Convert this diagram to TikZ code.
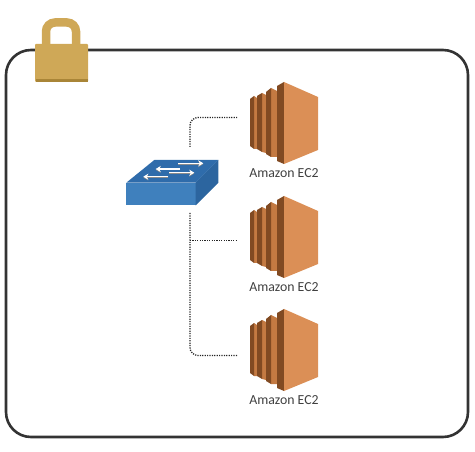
\documentclass[tikz,border=0pt]{standalone}
\usepackage{fontspec}
\setmainfont{Carlito}
\usetikzlibrary{arrows.meta}
\definecolor{ecLight}{HTML}{DB8F56}
\definecolor{ecMid}{HTML}{C47A42}
\definecolor{ecDark}{HTML}{814A22}
\definecolor{swTop}{HTML}{2F6CAB}
\definecolor{swFront}{HTML}{3F80BD}
\definecolor{swSide}{HTML}{2C659F}
\definecolor{lockGold}{HTML}{CFA857}
\definecolor{lockDark}{HTML}{A98537}
\tikzset{
  frameline/.style={line width=2.6pt,draw=black!80,rounded corners=25pt},
  dotline/.style={line width=1.3pt,dash pattern=on 1.2pt off 1.2pt,draw=black!85,rounded corners=8pt},
  swarrow/.style={-{Stealth[length=5pt,width=6pt]},line width=1.5pt,draw=white},
  swshadow/.style={-{Stealth[length=5pt,width=6pt]},line width=1.2pt,draw=black!45},
  eclabel/.style={font=\fontsize{13.8}{15}\selectfont,text=black!75,inner sep=0pt,anchor=center},
  pics/ecinstance/.style={code={
    % fin 1
    \fill[ecMid] (254,-27) -- (257,-25) -- (257,26) -- (254,26) -- cycle;
    \fill[ecDark] (250,-24) -- (254,-27) -- (254,26) -- (250,23) -- cycle;
    % fin 2
    \fill[ecMid] (262,-30) -- (266,-28) -- (266,30) -- (262,29) -- cycle;
    \fill[ecDark] (257,-27) -- (262,-30) -- (262,29) -- (257,26) -- cycle;
    % fin 3
    \fill[ecMid] (271,-35) -- (277,-32) -- (277,34) -- (271,34) -- cycle;
    \fill[ecDark] (266,-31) -- (271,-35) -- (271,34) -- (266,31) -- cycle;
    % main
    \fill[ecDark] (277,-37) -- (284,-41) -- (284,41) -- (277,38) -- cycle;
    \fill[ecLight] (284,-41) -- (318,-26) -- (318,27) -- (284,41) -- cycle;
    \node[eclabel] (-label) at (284,50) {Amazon EC2};
  }}
}
\begin{document}
\begin{tikzpicture}[x=1pt,y=-1pt]
\useasboundingbox (0,0) rectangle (475,452);
% frame
\draw[frameline] (6,50) rectangle (468,437);
% padlock
\draw[lockGold,line width=8.5pt,rounded corners=9pt] (46,46) -- (46,22.5) -- (76,22.5) -- (76,46);
\fill[lockGold,rounded corners=1pt] (35,44) rectangle (88,82);
\fill[lockDark] (35.5,79) rectangle (87.5,82);
% switch
\fill[swTop] (126.3,182.7) -- (154.3,160) -- (218.3,160) -- (195.7,182.7) -- cycle;
\fill[swFront] (126.3,182.7) rectangle (195.7,205.3);
\fill[swSide] (195.7,182.7) -- (218.3,160) -- (218.3,182.7) -- (195.7,205.3) -- cycle;
\draw[swshadow] (178.3,164.1) -- (203.3,164.1);
\draw[swshadow] (180,169.8) -- (155.7,169.8);
\draw[swshadow] (169.3,173.5) -- (194.3,173.5);
\draw[swshadow] (168.3,177.5) -- (143.3,177.5);
\draw[swarrow] (178.3,163.3) -- (203.3,163.3);
\draw[swarrow] (180,169) -- (155.7,169);
\draw[swarrow] (169.3,172.7) -- (194.3,172.7);
\draw[swarrow] (168.3,176.7) -- (143.3,176.7);
% EC2 instances
\pic (ecA) at (0,123) {ecinstance};
\pic (ecB) at (0,237) {ecinstance};
\pic (ecC) at (0,350) {ecinstance};
% connectors
\coordinate (swUp) at (190,147);
\coordinate (swDown) at (190,213);
\coordinate (endA) at (237,117.5);
\coordinate (endB) at (237,240.5);
\coordinate (endC) at (237,355.5);
\coordinate (branch) at (190,240.5);
\draw[dotline] (swUp) |- (endA);
\draw[dotline] (swDown) |- (endC);
\draw[dotline,rounded corners=0pt] (branch) -- (endB);
\end{tikzpicture}
\end{document}
